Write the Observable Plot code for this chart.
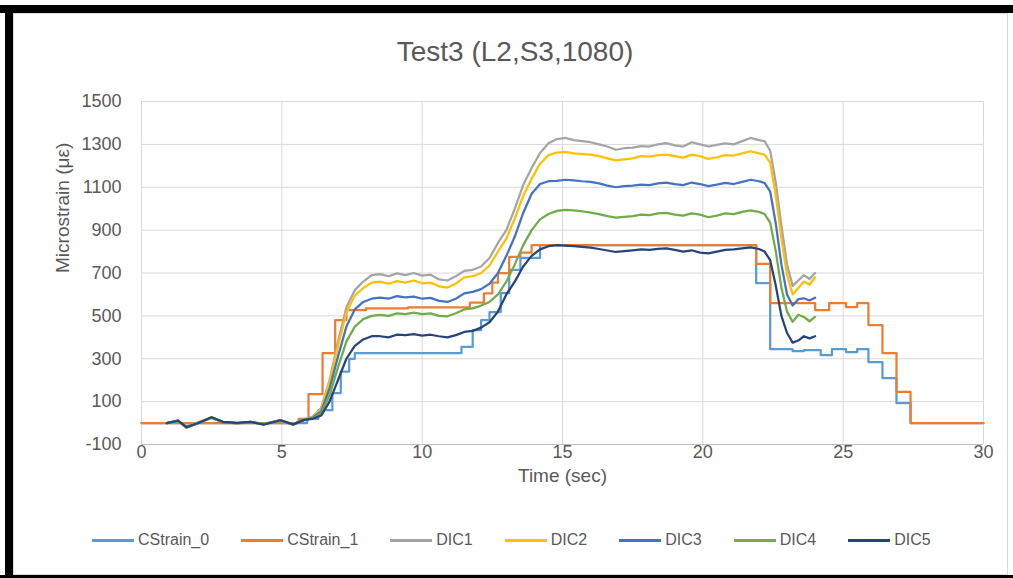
<!DOCTYPE html>
<html><head><meta charset="utf-8">
<script src="https://cdn.jsdelivr.net/npm/d3@7"></script>
<script src="https://cdn.jsdelivr.net/npm/@observablehq/plot@0.6"></script>
<style>
html,body{margin:0;padding:0;background:#fff;width:1013px;height:578px;overflow:hidden;position:relative;font-family:"Liberation Sans",Arial,sans-serif;}
.blk{position:absolute;background:#000;}
#inner{position:absolute;left:13px;top:13px;width:993px;height:560px;border:1px solid #d9d9d9;background:#fff;}
#chart{position:absolute;left:0;top:0;}
#title{position:absolute;left:0;width:1030px;top:36px;text-align:center;font-size:28px;color:#595959;white-space:nowrap;}
#legend{position:absolute;left:92px;top:531px;display:flex;align-items:center;gap:32px;font-size:16px;color:#595959;white-space:nowrap;}
.item{display:flex;align-items:center;}
.sw{width:42px;height:3px;margin-right:4px;}
</style>
</head><body>
<div class="blk" style="left:0;top:5px;width:1013px;height:8px"></div>
<div class="blk" style="left:5px;top:5px;width:8px;height:573px"></div>
<div class="blk" style="left:0;top:575px;width:1013px;height:3px"></div>
<div id="inner"></div>
<div id="chart"></div>
<div id="title">Test3 (L2,S3,1080)</div>
<div id="legend"></div>
<script>
// ---- data ----
const seriesNames = ["CStrain_0", "CStrain_1", "DIC1", "DIC2", "DIC3", "DIC4", "DIC5"];
const seriesColors = ["#5B9BD5", "#ED7D31", "#A5A5A5", "#FFC000", "#4472C4", "#70AD47", "#264478"];
const xTicks = [0, 5, 10, 15, 20, 25, 30];
const yTicks = [-100, 100, 300, 500, 700, 900, 1100, 1300, 1500];

// strain gauges (stepped)
const cs0Time = [0, 5.9, 6.3, 6.8, 7.1, 7.4, 7.6, 11.4, 11.8, 12.1, 12.4, 12.8, 13.1, 13.5, 14.2, 21.9, 22.4, 23.2, 23.6, 24.2, 24.6, 25.1, 25.5, 25.9, 26.4, 26.9, 27.4, 30];
const cs0Val  = [0, 20, 60, 140, 240, 300, 326, 355, 434, 480, 518, 606, 714, 770, 830, 653, 345, 335, 340, 317, 345, 331, 345, 284, 210, 93, 0, 0];
const cs1Time = [0, 5.6, 5.95, 6.45, 6.9, 7.3, 8.0, 9.5, 11.7, 12.2, 12.5, 12.7, 13.1, 13.5, 13.9, 21.9, 22.4, 24.0, 24.5, 25.1, 25.5, 25.9, 26.4, 26.9, 27.4, 30];
const cs1Val  = [0, 20, 135, 326, 480, 527, 535, 540, 562, 605, 655, 700, 775, 795, 830, 742, 560, 527, 560, 541, 560, 457, 326, 145, 0, 0];

// DIC (shared time base)
const dicTime = [0.9, 1.3, 1.6, 2.0, 2.5, 2.9, 3.4, 3.9, 4.35, 4.95, 5.4, 5.8,
  6.1, 6.4, 6.7, 7.0, 7.3, 7.6, 7.9, 8.2,
  8.5, 8.8, 9.1, 9.4, 9.7, 10.0, 10.3, 10.6, 10.9, 11.2, 11.5,
  11.8, 12.1, 12.4, 12.7, 13.0, 13.3, 13.6, 13.9, 14.2, 14.5,
  14.8, 15.1, 15.4, 15.7, 16.0, 16.3, 16.6, 16.9, 17.2, 17.5, 17.8, 18.1, 18.4, 18.7, 19.0, 19.3, 19.6, 19.9, 20.2, 20.5, 20.8, 21.1, 21.4, 21.7, 22.0,
  22.2, 22.4, 22.6, 22.8, 23.0, 23.2, 23.4, 23.6, 23.8, 24.0];
const dic1 = [0, 8, -15, 2, 26, 6, 0, 4, -4, 10, -6, 18,
  30, 70, 200, 380, 540, 620, 660, 690,
  695, 685, 698, 690, 700, 688, 692, 670, 665, 685, 710,
  715, 730, 770, 840, 900, 1000, 1110, 1190, 1260, 1305,
  1325, 1330, 1320, 1315, 1310, 1300, 1290, 1275, 1282, 1285, 1292, 1290, 1300, 1306, 1295, 1290, 1310, 1300, 1290, 1298, 1305, 1300, 1315, 1330, 1320,
  1315, 1270, 1120, 920, 740, 640, 665, 690, 672, 700];
const dic2 = [0, 10, -18, 0, 28, 5, -2, 5, -5, 12, -7, 15,
  28, 65, 190, 360, 515, 595, 630, 655,
  660, 650, 662, 655, 665, 652, 655, 638, 632, 650, 680,
  685, 700, 735, 800, 860, 955, 1060, 1140, 1210, 1250,
  1262, 1265, 1258, 1255, 1252, 1245, 1235, 1225, 1230, 1235, 1245, 1243, 1250, 1252, 1245, 1238, 1252, 1245, 1232, 1240, 1250, 1248, 1258, 1268, 1258,
  1252, 1215, 1060, 860, 690, 600, 630, 660, 645, 680];
const dic3 = [0, 12, -20, -2, 25, 3, 0, 6, -6, 14, -8, 14,
  25, 55, 160, 310, 450, 530, 565, 580,
  585, 580, 592, 586, 590, 580, 584, 570, 565, 580, 605,
  612, 625, 650, 700, 780, 870, 980, 1070, 1115, 1128,
  1130, 1135, 1132, 1128, 1125, 1118, 1108, 1100, 1105, 1108, 1112, 1110, 1118, 1122, 1115, 1110, 1122, 1115, 1105, 1112, 1120, 1115, 1125, 1135, 1128,
  1120, 1080, 930, 740, 600, 548, 578, 582, 572, 585];
const dic4 = [0, 9, -22, 1, 24, 4, -1, 3, -3, 11, -5, 16,
  22, 45, 130, 260, 380, 450, 485, 500,
  505, 500, 512, 508, 515, 508, 512, 500, 498, 512, 530,
  535, 548, 565, 600, 660, 740, 830, 900, 950, 975,
  990, 995, 992, 988, 982, 975, 965, 958, 962, 965, 972, 970, 978, 980, 972, 968, 978, 972, 960, 968, 978, 975, 985, 992, 985,
  975, 935, 800, 630, 520, 472, 505, 495, 475, 495];
const dic5 = [0, 11, -19, -1, 27, 6, 1, 5, -7, 13, -6, 15,
  20, 35, 100, 200, 300, 360, 390, 405,
  405, 400, 412, 410, 415, 408, 412, 405, 400, 410, 425,
  430, 445, 470, 520, 600, 660, 730, 780, 810, 825,
  830, 828, 825, 822, 818, 812, 805, 798, 802, 806, 810, 808, 812, 815, 808, 800, 806, 795, 792, 800, 808, 810, 815, 820, 812,
  800, 760, 640, 500, 420, 375, 385, 405, 395, 405];

// ---- build table ----
const rows = [];
cs0Time.forEach((t, i) => rows.push({series: "CStrain_0", t, v: cs0Val[i]}));
cs1Time.forEach((t, i) => rows.push({series: "CStrain_1", t, v: cs1Val[i]}));
const dicVals = [dic1, dic2, dic3, dic4, dic5];
dicVals.forEach((arr, k) => dicTime.forEach((t, i) => rows.push({series: seriesNames[k + 2], t, v: arr[i]})));

const lineMarks = seriesNames.map((name, i) => Plot.line(rows.filter(d => d.series === name), {
  x: "t", y: "v", stroke: seriesColors[i], strokeWidth: 2.25,
  curve: i < 2 ? "step-after" : "linear", strokeLinejoin: "round"
}));

const chart = Plot.plot({
  width: 1013, height: 578,
  marginLeft: 141, marginRight: 30, marginTop: 101, marginBottom: 134,
  style: {background: "transparent", color: "#595959", fontFamily: "'Liberation Sans', Arial, sans-serif", fontSize: "18px"},
  x: {domain: [0, 30]},
  y: {domain: [-100, 1500]},
  marks: [
    Plot.gridY(yTicks, {stroke: "#d9d9d9", strokeOpacity: 1}),
    Plot.gridX(xTicks, {stroke: "#d9d9d9", strokeOpacity: 1}),
    Plot.ruleY([-100], {stroke: "#bfbfbf", strokeWidth: 1}),
    ...lineMarks,
    Plot.axisY(yTicks, {tickSize: 0, tickPadding: 20, label: null, fontSize: 18, fill: "#595959", tickFormat: d => String(d)}),
    Plot.axisX(xTicks, {tickSize: 0, tickPadding: 1, label: null, fontSize: 18, fill: "#595959", tickFormat: d => String(d)}),
    Plot.text(["Microstrain (με)"], {frameAnchor: "left", dx: -79, rotate: -90, fontSize: 19, fill: "#595959"}),
    Plot.text(["Time (sec)"], {frameAnchor: "bottom", dy: 37, fontSize: 19, fill: "#595959"})
  ]
});
document.getElementById("chart").appendChild(chart);

// legend
const leg = document.getElementById("legend");
seriesNames.forEach((n, i) => {
  const it = document.createElement("div"); it.className = "item";
  const sw = document.createElement("div"); sw.className = "sw"; sw.style.background = seriesColors[i];
  const tx = document.createElement("span"); tx.textContent = n;
  it.appendChild(sw); it.appendChild(tx); leg.appendChild(it);
});
</script>
</body></html>
